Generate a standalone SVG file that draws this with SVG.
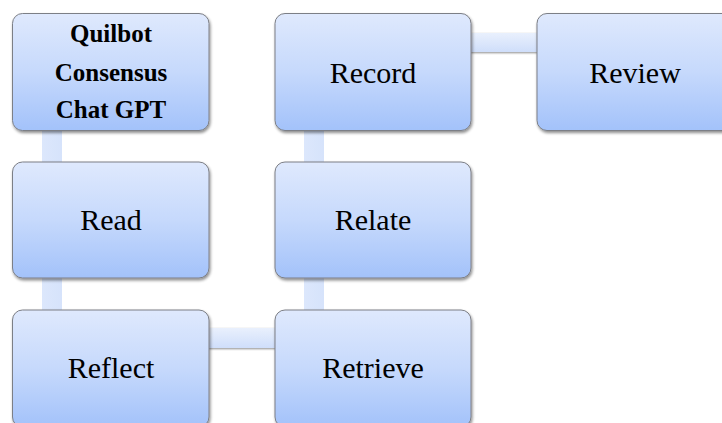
<svg xmlns="http://www.w3.org/2000/svg" width="722" height="423" viewBox="0 0 722 423">
<defs>
<linearGradient id="box" x1="0" y1="0" x2="0" y2="1">
<stop offset="0" stop-color="#dfe9fd"/>
<stop offset="0.5" stop-color="#c6d9fc"/>
<stop offset="1" stop-color="#a3c2fa"/>
</linearGradient>
<linearGradient id="hbar" x1="0" y1="0" x2="0" y2="1">
<stop offset="0" stop-color="#e9f0fd"/>
<stop offset="1" stop-color="#cfdefa"/>
</linearGradient>
<linearGradient id="vbar" x1="0" y1="0" x2="1" y2="0">
<stop offset="0" stop-color="#dce7fc"/>
<stop offset="1" stop-color="#d6e3fb"/>
</linearGradient>
<filter id="sh" x="-10%" y="-10%" width="120%" height="130%">
<feGaussianBlur in="SourceAlpha" stdDeviation="1.5"/>
<feOffset dx="0.5" dy="2" result="b"/>
<feComponentTransfer><feFuncA type="linear" slope="0.45"/></feComponentTransfer>
<feMerge><feMergeNode/><feMergeNode in="SourceGraphic"/></feMerge>
</filter>
<filter id="shb" x="-10%" y="-20%" width="120%" height="160%">
<feGaussianBlur in="SourceAlpha" stdDeviation="0.8"/>
<feOffset dx="0" dy="1.2" result="b"/>
<feComponentTransfer><feFuncA type="linear" slope="0.45"/></feComponentTransfer>
<feMerge><feMergeNode/><feMergeNode in="SourceGraphic"/></feMerge>
</filter>
</defs>
<style>
.node rect { fill: url(#box); stroke: #7c7f86; stroke-width: 1; filter: url(#sh); }
.node text { font-family: "Liberation Serif", "Times New Roman", serif; font-size: 30px; fill: #000; text-anchor: middle; }
.node text.b { font-weight: bold; font-size: 25px; }
.hb { fill: url(#hbar); filter: url(#shb); }
.vb { fill: url(#vbar); }
</style>
<g id="connectors">
<rect class="vb" x="42" y="128" width="20" height="36"/>
<rect class="vb" x="42" y="276" width="20" height="36"/>
<rect class="hb" x="207" y="328" width="70" height="20"/>
<rect class="vb" x="304" y="276" width="20" height="36"/>
<rect class="vb" x="304" y="128" width="20" height="36"/>
<rect class="hb" x="469" y="33" width="70" height="19"/>
</g>
<g id="node-quilbot" class="node">
<rect x="12.5" y="13.5" width="196.5" height="117" rx="10"/>
<text class="b" x="111" y="42">Quilbot</text>
<text class="b" x="111" y="81">Consensus</text>
<text class="b" x="111" y="118">Chat GPT</text>
</g>
<g id="node-read" class="node">
<rect x="12.5" y="162" width="196.5" height="116" rx="10"/>
<text x="111" y="230">Read</text>
</g>
<g id="node-reflect" class="node">
<rect x="12.5" y="310" width="196.5" height="117" rx="10"/>
<text x="111" y="378">Reflect</text>
</g>
<g id="node-retrieve" class="node">
<rect x="275" y="310" width="196" height="117" rx="10"/>
<text x="373" y="378">Retrieve</text>
</g>
<g id="node-relate" class="node">
<rect x="275" y="162" width="196" height="116" rx="10"/>
<text x="373" y="230">Relate</text>
</g>
<g id="node-record" class="node">
<rect x="275" y="13.5" width="196" height="117" rx="10"/>
<text x="373" y="83">Record</text>
</g>
<g id="node-review" class="node">
<rect x="537" y="13.5" width="196" height="117" rx="10"/>
<text x="635" y="83">Review</text>
</g>
</svg>
